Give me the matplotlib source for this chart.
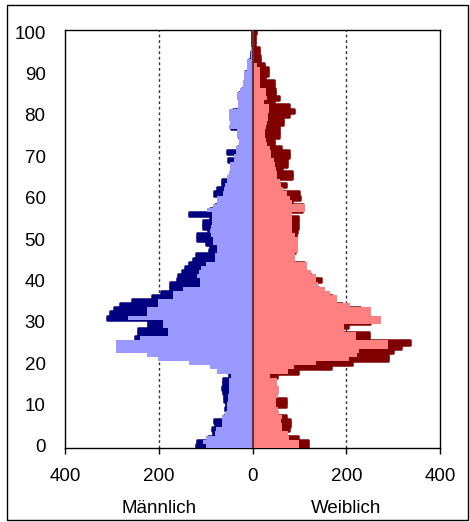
import matplotlib
matplotlib.use("Agg")
import matplotlib.pyplot as plt
import matplotlib.transforms as mtransforms
from matplotlib.patches import Rectangle
import numpy as np

plt.rcParams["font.family"] = ["Liberation Sans", "DejaVu Sans"]

ages = np.arange(0, 101)

# Männlich, helle Balken (Beträge)
male_light = [100, 105, 100, 80, 78, 66, 65, 66, 58, 55,
              55, 52, 52, 50, 50, 50, 50, 45, 75, 90,
              135, 201, 225, 291, 291, 291, 240, 180, 180, 192,
              192, 265, 225, 225, 201, 201, 169, 169, 148, 111,
              113, 118, 115, 109, 100, 79, 80, 76, 75, 85,
              85, 88, 90, 88, 86, 86, 86, 97, 85, 75,
              75, 62, 60, 58, 54, 54, 50, 47, 47, 40,
              40, 36, 36, 29, 29, 33, 33, 51, 47, 51,
              51, 51, 30, 30, 34, 34, 26, 20, 20, 19,
              19, 11, 11, 11, 4, 4, 3, 2, 1, 1,
              0.5]
# Männlich, dunkle Balken
male_dark = [120, 118, 95, 85, 86, 80, 82, 60, 57, 58,
             57, 60, 61, 63, 65, 64, 62, 50, 50, 55,
             70, 100, 130, 160, 180, 200, 250, 244, 244, 222,
             222, 310, 303, 295, 282, 257, 214, 195, 177, 177,
             162, 158, 150, 143, 135, 126, 120, 92, 90, 100,
             118, 118, 95, 105, 105, 90, 135, 90, 80, 70,
             70, 82, 76, 65, 65, 50, 45, 45, 44, 53,
             38, 55, 30, 25, 25, 28, 28, 45, 40, 45,
             45, 42, 25, 25, 28, 28, 22, 17, 17, 15,
             15, 9, 9, 8, 3, 3, 2, 2, 1, 1,
             0.5]
# Weiblich, helle Balken
female_light = [100, 100, 78, 75, 63, 62, 60, 62, 57, 55,
                50, 50, 55, 57, 57, 53, 53, 38, 75, 88,
                135, 205, 223, 227, 290, 289, 220, 220, 195, 195,
                274, 274, 252, 252, 208, 181, 181, 165, 154, 140,
                135, 135, 124, 117, 117, 90, 90, 96, 96, 97,
                97, 90, 85, 85, 85, 85, 85, 112, 112, 85,
                80, 74, 65, 60, 58, 53, 53, 50, 48, 45,
                40, 40, 38, 30, 28, 26, 26, 28, 30, 32,
                34, 35, 35, 24, 31, 29, 29, 15, 15, 15,
                17, 17, 10, 4, 4, 2, 2, 1, 1, 0.5,
                0]
# Weiblich, dunkle Balken
female_dark = [118, 118, 98, 70, 77, 80, 80, 72, 50, 50,
               72, 72, 50, 50, 50, 45, 45, 53, 96, 167,
               213, 290, 289, 300, 316, 335, 248, 248, 180, 203,
               250, 250, 230, 230, 190, 170, 170, 150, 140, 130,
               147, 125, 115, 110, 110, 85, 85, 90, 90, 90,
               92, 92, 94, 97, 97, 97, 80, 105, 107, 85,
               102, 100, 60, 72, 55, 85, 85, 63, 73, 73,
               77, 77, 60, 45, 45, 56, 56, 56, 64, 64,
               77, 88, 77, 45, 56, 49, 49, 45, 45, 27,
               32, 32, 24, 17, 17, 13, 13, 5, 5, 5,
               8]

xticks = [-400, -200, 0, 200, 400]
yticks = list(range(0, 101, 10))
fs = 13.5

fig = plt.figure(figsize=(4.7, 5.22), dpi=100)
ax = fig.add_axes([65 / 470, 1 - 448 / 522, 375 / 470, 418 / 522])

# dunkle Balken hinten, helle davor
ax.barh(ages, -np.array(male_dark), height=1, color="#000080", edgecolor="#000080",
        linewidth=1.8, joinstyle="round", zorder=2)
ax.barh(ages, np.array(female_dark), height=1, color="#800000", edgecolor="#800000",
        linewidth=1.8, joinstyle="round", zorder=2)
ax.barh(ages, -np.array(male_light), height=1, color="#9999ff", linewidth=0, zorder=3)
ax.barh(ages, np.array(female_light), height=1, color="#ff8080", linewidth=0, zorder=3)

ax.axvline(0, color="#6e2c2c", linewidth=1.5, zorder=4)
for gx in (-200, 200):
    ax.axvline(gx, color="#333333", linewidth=1, linestyle=(0, (2, 2)), zorder=1)

ax.set_xlim(-400, 400)
ax.set_ylim(-0.5, 100.5)
ax.set_xticks(xticks)
ax.set_xticklabels([str(abs(v)) for v in xticks])
ax.set_yticks(yticks)
ax.tick_params(axis="x", direction="out", length=4, width=1, pad=10.5, labelsize=fs)
ax.tick_params(axis="y", length=0, pad=14, labelsize=fs)
for s in ax.spines.values():
    s.set_linewidth(1)

trans = mtransforms.blended_transform_factory(ax.transData, ax.transAxes)
ax.text(-200, -0.145, "Männlich", transform=trans, ha="center", va="center", fontsize=fs)
ax.text(200, -0.145, "Weiblich", transform=trans, ha="center", va="center", fontsize=fs)

fig.patches.append(Rectangle((7 / 470, 2 / 522), 461 / 470, 515 / 522, fill=False,
                             edgecolor="black", linewidth=1, transform=fig.transFigure))

fig.savefig("out.png", dpi=100)
